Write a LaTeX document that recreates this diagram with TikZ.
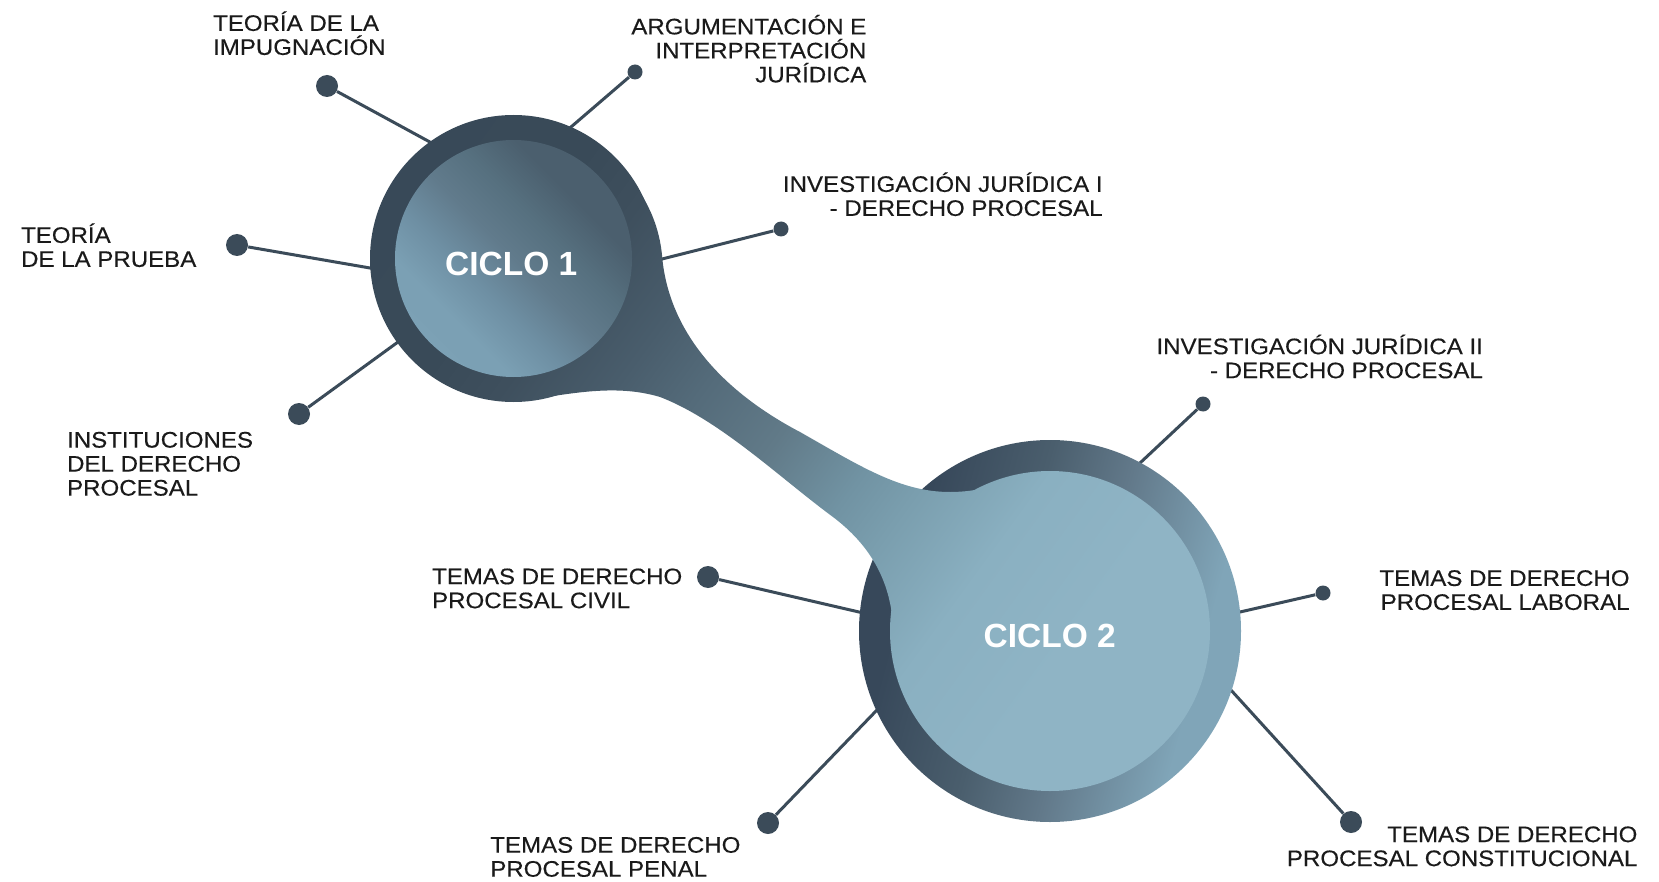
\documentclass[tikz,border=0pt]{standalone}
\usepackage{fontspec}
\setmainfont{Liberation Sans}
\newfontfamily\lblfont{Liberation Sans}[FakeStretch=1.07,FakeBold=0.3]
\definecolor{dotc}{HTML}{3B4B59}
\definecolor{txtc}{HTML}{1A1A1A}
% blob shading colours
\definecolor{bA}{HTML}{90B5C6}
\definecolor{bB}{HTML}{8FB4C5}
\definecolor{bC}{HTML}{8AB0C1}
\definecolor{bD}{HTML}{7A9EAE}
\definecolor{bE}{HTML}{7193A3}
\definecolor{bF}{HTML}{617A88}
\definecolor{bG}{HTML}{546B7A}
\definecolor{bH}{HTML}{495D6C}
\definecolor{bI}{HTML}{3E4F5D}
\definecolor{bJ}{HTML}{394A58}
\definecolor{bK}{HTML}{36475A}
% ring 2 colours
\definecolor{rA}{HTML}{82A7BA}
\definecolor{rB}{HTML}{80A5B8}
\definecolor{rC}{HTML}{62798A}
\definecolor{rD}{HTML}{4A5E6D}
\definecolor{rE}{HTML}{37485A}
\definecolor{rF}{HTML}{35465A}
% inner 1 colours
\definecolor{iA}{HTML}{7EA3B7}
\definecolor{iB}{HTML}{7BA0B4}
\definecolor{iC}{HTML}{6E8FA3}
\definecolor{iD}{HTML}{617B8C}
\definecolor{iE}{HTML}{56707F}
\definecolor{iF}{HTML}{4B5F6E}
\definecolor{iG}{HTML}{4A5D6C}
\pgfdeclareverticalshading{blobsh}{100bp}{color(0bp)=(bA); color(31bp)=(bB); color(37.5bp)=(bC); color(43bp)=(bD); color(46bp)=(bE); color(51bp)=(bF); color(56bp)=(bG); color(60bp)=(bH); color(65bp)=(bI); color(69bp)=(bJ); color(100bp)=(bK)}
\pgfdeclareverticalshading{ringsh}{100bp}{color(0bp)=(rA); color(30bp)=(rB); color(45bp)=(rC); color(56bp)=(rD); color(70bp)=(rE); color(100bp)=(rF)}
\pgfdeclareverticalshading{innersh}{100bp}{color(0bp)=(iA); color(32bp)=(iB); color(41bp)=(iC); color(50bp)=(iD); color(59bp)=(iE); color(68bp)=(iF); color(100bp)=(iG)}
\begin{document}
\begin{tikzpicture}[x=0.5pt,y=-0.5pt,
  bigdot/.style={circle, fill=dotc, inner sep=0pt, minimum size=11pt},
  smalldot/.style={circle, fill=dotc, inner sep=0pt, minimum size=7.5pt},
  conn/.style={draw=dotc, line width=1.5pt, shorten >=-5pt},
  lbl/.style={font=\lblfont\fontsize{11.25}{12}\selectfont, text=txtc, inner sep=0pt},
  ciclo/.style={font=\fontsize{16.75}{20}\selectfont\bfseries, text=white, inner sep=0pt}]
\path[use as bounding box, fill=white] (0,0) rectangle (1659,882);

% dots
\node[bigdot]   (d1)  at (327,86)   {};
\node[smalldot] (d2)  at (635,72)   {};
\node[smalldot] (d3)  at (781,229)  {};
\node[bigdot]   (d4)  at (237,245)  {};
\node[bigdot]   (d5)  at (299,414)  {};
\node[smalldot] (d6)  at (1203,404) {};
\node[bigdot]   (d7)  at (708,577)  {};
\node[smalldot] (d8)  at (1323,593) {};
\node[bigdot]   (d9)  at (768,823)  {};
\node[bigdot]   (d10) at (1351,822) {};

% connector ends on the circles
\coordinate (e1)  at (428,141);
\coordinate (e2)  at (571,127);
\coordinate (e3)  at (662,259);
\coordinate (e4)  at (370,268);
\coordinate (e5)  at (398,342);
\coordinate (e6)  at (1140,463);
\coordinate (e7)  at (859,612);
\coordinate (e8)  at (1240,612);
\coordinate (e9)  at (876,711);
\coordinate (e10) at (1230,689);

\foreach \i in {1,...,10} {\draw[conn] (d\i) -- (e\i);}

% circle 2 outer ring
\shade[shading=ringsh, shading angle=75] (1050,631) circle[radius=191];

% blob: circle 1 outer + tail + circle 2 inner
\begin{scope}
  \clip (513.5,258.5) circle[radius=143.5];
  \shade[shading=blobsh, shading angle=53.9] (340,2) rectangle (1240,902);
\end{scope}
\begin{scope}
  \clip (550,124) .. controls (600,142) and (655,185) .. (662,255)
        .. controls (668,330) and (720,390) .. (800,432)
        .. controls (860,466) and (900,492) .. (950,492)
        .. controls (985,492) and (1010,480) .. (1035,478)
        -- (1050,631) -- (893,625)
        .. controls (890,580) and (870,545) .. (833,517)
        .. controls (780,478) and (720,420) .. (660,397)
        .. controls (620,385) and (580,392) .. (540,398)
        -- (513.5,258.5) -- cycle;
  \shade[shading=blobsh, shading angle=53.9] (340,2) rectangle (1240,902);
\end{scope}
\begin{scope}
  \clip (1050,631) circle[radius=160];
  \shade[shading=blobsh, shading angle=53.9] (340,2) rectangle (1240,902);
\end{scope}

% circle 1 inner
\shade[shading=innersh, shading angle=-45] (513.5,258.5) circle[radius=118.5];

% titles
\node[ciclo] (c1) at (511.3,263.8) {CICLO 1};
\node[ciclo] (c2) at (1049.7,635.8) {CICLO 2};

% labels
\node[lbl, anchor=north west, align=left]  (t1)  at (212.7,6.5)   {\rule{0pt}{12pt}TEORÍA DE LA\\IMPUGNACIÓN};
\node[lbl, anchor=north east, align=right] (t2)  at (866.7,10)    {\rule{0pt}{12pt}ARGUMENTACIÓN E\\INTERPRETACIÓN\\JURÍDICA};
\node[lbl, anchor=north east, align=right] (t3)  at (1103,167.5)  {\rule{0pt}{12pt}INVESTIGACIÓN JURÍDICA I\\- DERECHO PROCESAL};
\node[lbl, anchor=north west, align=left]  (t4)  at (20.7,218.5)  {\rule{0pt}{12pt}TEORÍA\\DE LA PRUEBA};
\node[lbl, anchor=north west, align=left]  (t5)  at (66.7,423.2)  {\rule{0pt}{12pt}INSTITUCIONES\\DEL DERECHO\\PROCESAL};
\node[lbl, anchor=north east, align=right] (t6)  at (1483.3,329.8) {\rule{0pt}{12pt}INVESTIGACIÓN JURÍDICA II\\- DERECHO PROCESAL};
\node[lbl, anchor=north west, align=left]  (t7)  at (431.7,559.8) {\rule{0pt}{12pt}TEMAS DE DERECHO\\PROCESAL CIVIL};
\node[lbl, anchor=north east, align=right] (t8)  at (1630,561.5)  {\rule{0pt}{12pt}TEMAS DE DERECHO\\PROCESAL LABORAL};
\node[lbl, anchor=north west, align=left]  (t9)  at (489.9,828.3) {\rule{0pt}{12pt}TEMAS DE DERECHO\\PROCESAL PENAL};
\node[lbl, anchor=north east, align=right] (t10) at (1637.8,817.7) {\rule{0pt}{12pt}TEMAS DE DERECHO\\PROCESAL CONSTITUCIONAL};
\end{tikzpicture}
\end{document}
